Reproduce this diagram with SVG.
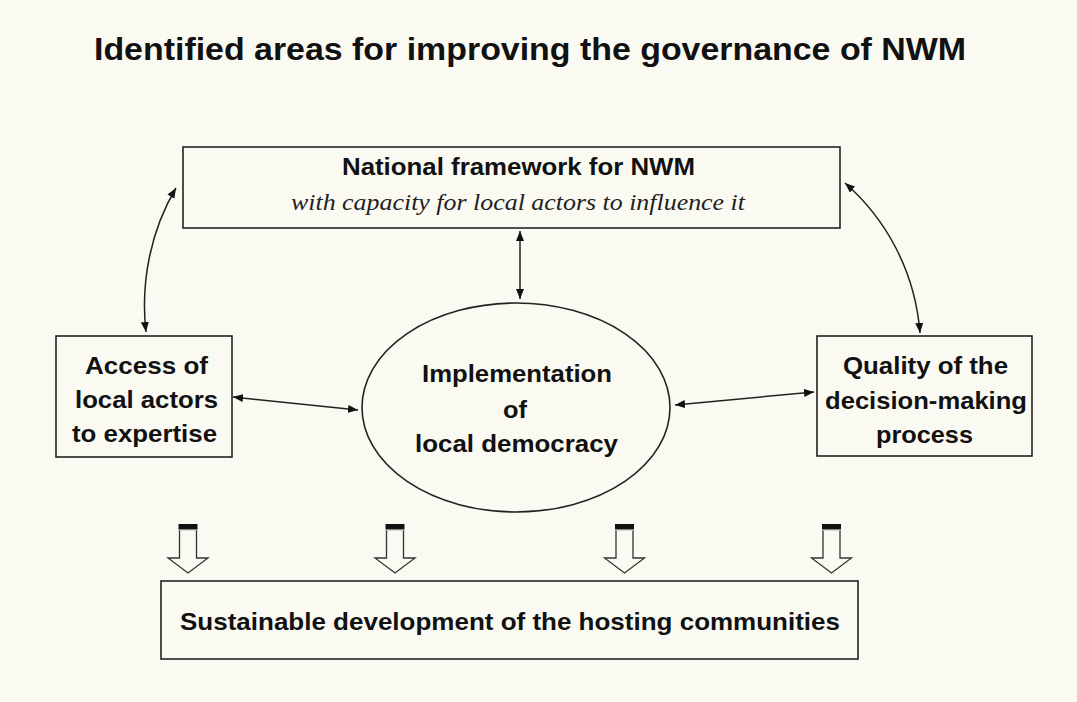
<svg xmlns="http://www.w3.org/2000/svg" width="1077" height="702" viewBox="0 0 1077 702">
  <style>
    .box { fill: none; stroke: #222; stroke-width: 1.6; }
    .lbl { font-family: "Liberation Sans", Arial, sans-serif; font-weight: bold; font-size: 24px; fill: #111; text-anchor: middle; }
    .sub { font-family: "Liberation Serif", "Times New Roman", serif; font-style: italic; font-size: 24px; fill: #222; text-anchor: middle; }
    .title { font-family: "Liberation Sans", Arial, sans-serif; font-weight: bold; font-size: 32px; fill: #111; }
    .link { fill: none; stroke: #222; stroke-width: 1.5; marker-start: url(#head); marker-end: url(#head); }
  </style>
  <defs>
    <marker id="head" markerUnits="userSpaceOnUse" markerWidth="11" markerHeight="9" refX="10" refY="4" orient="auto-start-reverse">
      <path d="M0,0 L10,4 L0,8 Z" fill="#111"/>
    </marker>
    <!-- hollow block arrow pointing down, origin at centre of its top bar -->
    <g id="blockArrow">
      <rect x="-9.5" y="0" width="19" height="5" fill="#111"/>
      <rect x="-9.5" y="5" width="19" height="1.6" fill="#8a8a8a"/>
      <path d="M-8.5,6.6 L-8.5,34 L-20,34 L0,49 L20,34 L8.5,34 L8.5,6.6" fill="#fafaf2" stroke="#333" stroke-width="1.3" stroke-linejoin="miter"/>
    </g>
  </defs>

  <rect width="1077" height="702" fill="#fafaf2"/>

  <text class="title" x="94" y="60" textLength="872" lengthAdjust="spacingAndGlyphs">Identified areas for improving the governance of NWM</text>

  <g id="national-framework">
    <rect class="box" x="183" y="147" width="657" height="81"/>
    <text class="lbl" x="518.5" y="175" textLength="353" lengthAdjust="spacingAndGlyphs">National framework for NWM</text>
    <text class="sub" x="518" y="210" textLength="454" lengthAdjust="spacingAndGlyphs">with capacity for local actors to influence it</text>
  </g>

  <g id="access-expertise">
    <rect class="box" x="56" y="336" width="176" height="121"/>
    <text class="lbl" x="146.5" y="374" textLength="123" lengthAdjust="spacingAndGlyphs">Access of</text>
    <text class="lbl" x="146.5" y="408" textLength="143" lengthAdjust="spacingAndGlyphs">local actors</text>
    <text class="lbl" x="144.5" y="442" textLength="145" lengthAdjust="spacingAndGlyphs">to expertise</text>
  </g>

  <g id="local-democracy">
    <ellipse class="box" cx="516" cy="407.5" rx="154" ry="104.5"/>
    <text class="lbl" x="517" y="382" textLength="190" lengthAdjust="spacingAndGlyphs">Implementation</text>
    <text class="lbl" x="515" y="418" textLength="24" lengthAdjust="spacingAndGlyphs">of</text>
    <text class="lbl" x="516.5" y="452" textLength="203" lengthAdjust="spacingAndGlyphs">local democracy</text>
  </g>

  <g id="decision-quality">
    <rect class="box" x="817" y="336" width="215" height="120"/>
    <text class="lbl" x="925.5" y="374" textLength="165" lengthAdjust="spacingAndGlyphs">Quality of the</text>
    <text class="lbl" x="926" y="409" textLength="202" lengthAdjust="spacingAndGlyphs">decision-making</text>
    <text class="lbl" x="924.5" y="443" textLength="97" lengthAdjust="spacingAndGlyphs">process</text>
  </g>

  <g id="sustainable-development">
    <rect class="box" x="161" y="581" width="697" height="78"/>
    <text class="lbl" x="510" y="630" textLength="660" lengthAdjust="spacingAndGlyphs">Sustainable development of the hosting communities</text>
  </g>

  <g id="connectors">
    <path class="link" d="M176,188 C152,228 140,280 146,332"/>
    <path class="link" d="M845,183 C885,218 915,270 920,333"/>
    <path class="link" d="M520,231 L520,299"/>
    <path class="link" d="M233,397 L358,410"/>
    <path class="link" d="M675,405 L814,392"/>
    <use href="#blockArrow" x="188" y="524"/>
    <use href="#blockArrow" x="395" y="524"/>
    <use href="#blockArrow" x="624.5" y="524"/>
    <use href="#blockArrow" x="831.5" y="524"/>
  </g>
</svg>
